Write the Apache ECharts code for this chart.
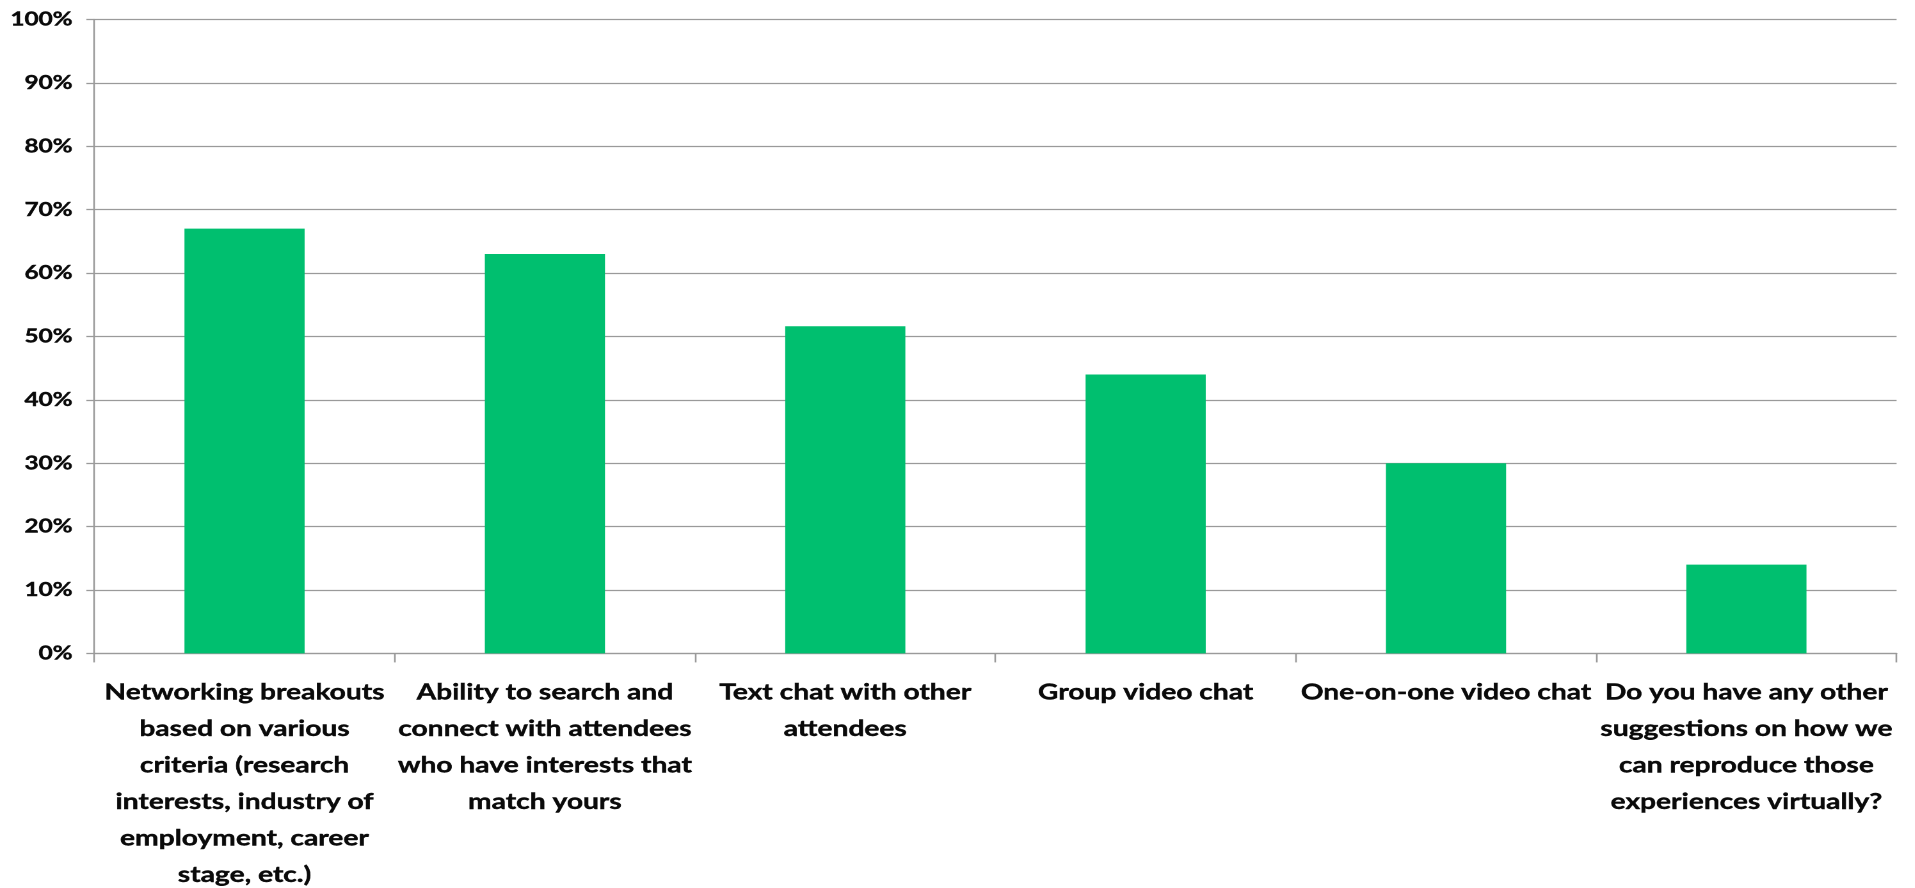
<!DOCTYPE html>
<html>
<head>
<meta charset="utf-8">
<title>Networking features</title>
<script src="https://cdn.jsdelivr.net/npm/echarts@6/dist/echarts.min.js"></script>
<style>
  html, body { margin: 0; padding: 0; background: #ffffff; overflow: hidden; }
  /* the chart is laid out narrower and widened horizontally, giving the wide lettering */
  #chart { width: 1496px; height: 888px; transform: scaleX(1.28); transform-origin: 0 0; }
</style>
</head>
<body>
<div id="chart"></div>
<script>
// Answer options (line breaks as they are set under the axis)
const categories = [
  'Networking breakouts\nbased on various\ncriteria (research\ninterests, industry of\nemployment, career\nstage, etc.)',
  'Ability to search and\nconnect with attendees\nwho have interests that\nmatch yours',
  'Text chat with other\nattendees',
  'Group video chat',
  'One-on-one video chat',
  'Do you have any other\nsuggestions on how we\ncan reproduce those\nexperiences virtually?'
];

// Share of respondents choosing each option, in percent
const shares = [67, 63, 51.6, 44, 30, 14];

// Value axis ticks, in percent
const yTicks = [0, 10, 20, 30, 40, 50, 60, 70, 80, 90, 100];

const FONT = 'Lato, "Open Sans", sans-serif';
const GRID_GREY = '#9a9a9a';
const INK = '#0a0a0a';

const chart = echarts.init(document.getElementById('chart'), null, { renderer: 'canvas', devicePixelRatio: 2 });

chart.setOption({
  animation: false,
  backgroundColor: '#ffffff',
  grid: {
    left: 73.7,
    right: 14.3,
    top: 19.5,
    bottom: 234.6,
    containLabel: false,
    outerBoundsMode: 'none'
  },
  xAxis: {
    type: 'category',
    data: categories,
    boundaryGap: true,
    axisLine: { show: true, lineStyle: { color: GRID_GREY, width: 1.3 } },
    axisTick: { show: true, alignWithLabel: false, length: 9, lineStyle: { color: GRID_GREY, width: 1.3 } },
    axisLabel: {
      interval: 0,
      margin: 21,
      color: INK,
      textBorderColor: INK,
      textBorderWidth: 0.4,
      fontFamily: FONT,
      fontWeight: 'bold',
      fontSize: 22,
      lineHeight: 36.5,
      align: 'center'
    }
  },
  yAxis: {
    type: 'value',
    min: yTicks[0],
    max: yTicks[yTicks.length - 1],
    interval: yTicks[1] - yTicks[0],
    axisLine: { show: true, lineStyle: { color: GRID_GREY, width: 1.3 } },
    axisTick: { show: true, length: 6.25, lineStyle: { color: GRID_GREY, width: 1.3 } },
    splitLine: { show: true, lineStyle: { color: GRID_GREY, width: 1.3 } },
    axisLabel: {
      margin: 17,
      color: INK,
      textBorderColor: INK,
      textBorderWidth: 0.4,
      fontFamily: FONT,
      fontWeight: 'bold',
      fontSize: 19,
      formatter: '{value}%'
    }
  },
  series: [{
    type: 'bar',
    data: shares,
    barWidth: '40%',
    itemStyle: { color: '#00bf6f' },
    emphasis: { disabled: true }
  }]
});
</script>
</body>
</html>
